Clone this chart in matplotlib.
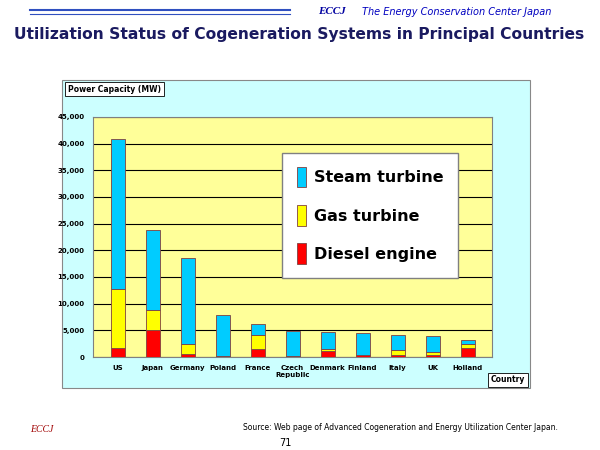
import matplotlib
matplotlib.use("Agg")
import matplotlib.pyplot as plt
from matplotlib.patches import Rectangle

countries = ["US", "Japan", "Germany", "Poland", "France", "Czech\nRepublic", "Denmark", "Finland", "Italy", "UK", "Holland"]
diesel = [1700, 5050, 560, 250, 1500, 200, 1200, 300, 400, 400, 1620]
gas = [11000, 3750, 1870, 0, 2550, 0, 350, 100, 900, 470, 880]
steam = [28100, 15100, 16210, 7600, 2180, 4700, 3130, 4030, 2750, 3060, 740]
yticks = [0, 5000, 10000, 15000, 20000, 25000, 30000, 35000, 40000, 45000]

fig = plt.figure(figsize=(6, 4.5), dpi=100)
fig.patch.set_facecolor("white")
W, H = 600, 450
def fx(x): return x / W
def fy(y): return 1 - y / H

# header
fig.add_artist(plt.Line2D([fx(30), fx(290)], [fy(10), fy(10)], color="#3050c0", lw=1.5))
fig.add_artist(plt.Line2D([fx(30), fx(290)], [fy(14), fy(14)], color="#3050c0", lw=0.8))
fig.text(fx(318), fy(12), "ECCJ", color="#0000a0", fontsize=8, fontstyle="italic", fontweight="bold", va="center", family="Liberation Serif")
fig.text(fx(362), fy(12), "The Energy Conservation Center Japan", color="#0000c0", fontsize=7, fontstyle="italic", va="center")
fig.text(fx(299), fy(35), "Utilization Status of Cogeneration Systems in Principal Countries", color="#1a1a60",
         fontsize=11.2, fontweight="bold", ha="center", va="center")

# outer panel
fig.add_artist(Rectangle((fx(62), fy(388)), fx(530 - 62), (388 - 80) / H, facecolor="#ccffff", edgecolor="#888888", lw=0.8, zorder=-5))

ax = fig.add_axes([fx(93), fy(357), fx(492 - 93), (357 - 117) / H])
ax.set_zorder(2)
ax.set_facecolor("#ffff99")
x = range(len(countries))
w = 0.4
ax.bar(x, diesel, w, color="#ff0000", edgecolor="#804040", lw=0.6, label="Diesel engine", zorder=3)
ax.bar(x, gas, w, bottom=diesel, color="#ffff00", edgecolor="#804040", lw=0.6, label="Gas turbine", zorder=3)
b2 = [d + g for d, g in zip(diesel, gas)]
ax.bar(x, steam, w, bottom=b2, color="#00ccff", edgecolor="#804040", lw=0.6, label="Steam turbine", zorder=3)
ax.set_ylim(0, 45000)
ax.set_xlim(-0.7, len(countries) - 0.3)
ax.set_yticks(yticks)
ax.set_yticklabels([f"{v:,}" for v in yticks], fontsize=5, fontweight="bold")
ax.set_xticks(list(x))
ax.set_xticklabels(countries, fontsize=5, fontweight="bold")
ax.tick_params(length=0, pad=6)
ax.yaxis.grid(True, color="black", lw=0.8, zorder=1)
for s in ax.spines.values():
    s.set_color("#808080")
h, l = ax.get_legend_handles_labels()
leg = ax.legend(h[::-1], l[::-1], loc="upper right", bbox_to_anchor=(0.935, 0.885), prop={"size": 11.5, "weight": "bold"},
                frameon=True, fancybox=False, edgecolor="#808080", handlelength=0.6, handleheight=1.6,
                handletextpad=0.5, labelspacing=1.1, borderpad=0.9)
leg.get_frame().set_alpha(1)

fig.text(fx(68), fy(89), "Power Capacity (MW)", fontsize=5.5, fontweight="bold", va="center",
         bbox=dict(facecolor="white", edgecolor="black", lw=0.6, pad=2))
fig.text(fx(508), fy(380), "Country", fontsize=5.5, fontweight="bold", ha="center", va="center",
         bbox=dict(facecolor="white", edgecolor="black", lw=0.6, pad=2))

fig.text(fx(558), fy(427), "Source: Web page of Advanced Cogeneration and Energy Utilization Center Japan.", fontsize=5.5,
         ha="right", va="center")
fig.text(fx(285), fy(443), "71", fontsize=7, ha="center", va="center")
fig.text(fx(30), fy(430), "ECCJ", color="#a00000", fontsize=7, fontstyle="italic", va="center", family="Liberation Serif")

fig.savefig("out.png", dpi=100)
